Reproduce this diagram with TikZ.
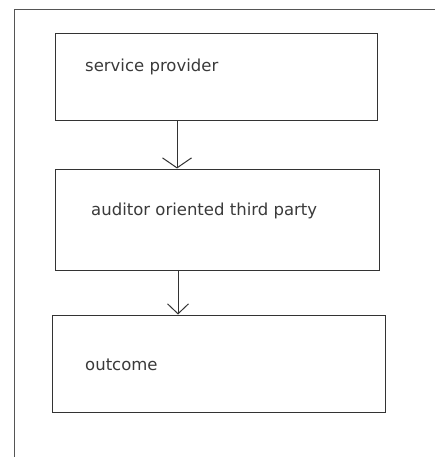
\documentclass[tikz,border=0pt]{standalone}
\usepackage{fontspec}
\setmainfont{DejaVu Sans}
\usetikzlibrary{arrows.meta}
\definecolor{frameline}{HTML}{555555}
\definecolor{boxline}{HTML}{333333}
\definecolor{labeltext}{HTML}{3A3A3A}
\begin{document}
\begin{tikzpicture}[x=1pt,y=-1pt,
  box/.style={draw=boxline,line width=1pt,rectangle,inner sep=0pt},
  lbl/.style={anchor=base west,inner sep=0pt,text=labeltext,font=\fontsize{16.5}{19}\selectfont},
  flow/.style={draw=boxline,line width=1pt}
]
\useasboundingbox (0,0) rectangle (435,457);
% outer frame: top and left edges only
\coordinate (ftl) at (14,10);
\coordinate (ftr) at (435,10);
\coordinate (fbl) at (14,457);
\draw[frameline,line width=1pt] (ftr) -- (ftl) -- (fbl);

% process boxes
\node[box,minimum width=322pt,minimum height=87pt] (b1) at (216,77.5) {};
\node[box,minimum width=324pt,minimum height=101pt] (b2) at (217,219.5) {};
\node[box,minimum width=333pt,minimum height=97pt] (b3) at (218.5,363.5) {};

% labels
\node[lbl] (t1) at (85,72) {service provider};
\node[lbl] (t2) at (91,215) {auditor oriented third party};
\node[lbl] (t3) at (85,370) {outcome};

% connectors
\coordinate (x1) at (177,0);
\coordinate (x2) at (178,0);
\draw[flow,-{Straight Barb[length=10pt,width=29pt,line width=1pt]}] (b1.south -| x1) -- (b2.north -| x1);
\draw[flow,-{Straight Barb[length=10pt,width=21pt,line width=1pt]}] (b2.south -| x2) -- (b3.north -| x2);
\end{tikzpicture}
\end{document}
